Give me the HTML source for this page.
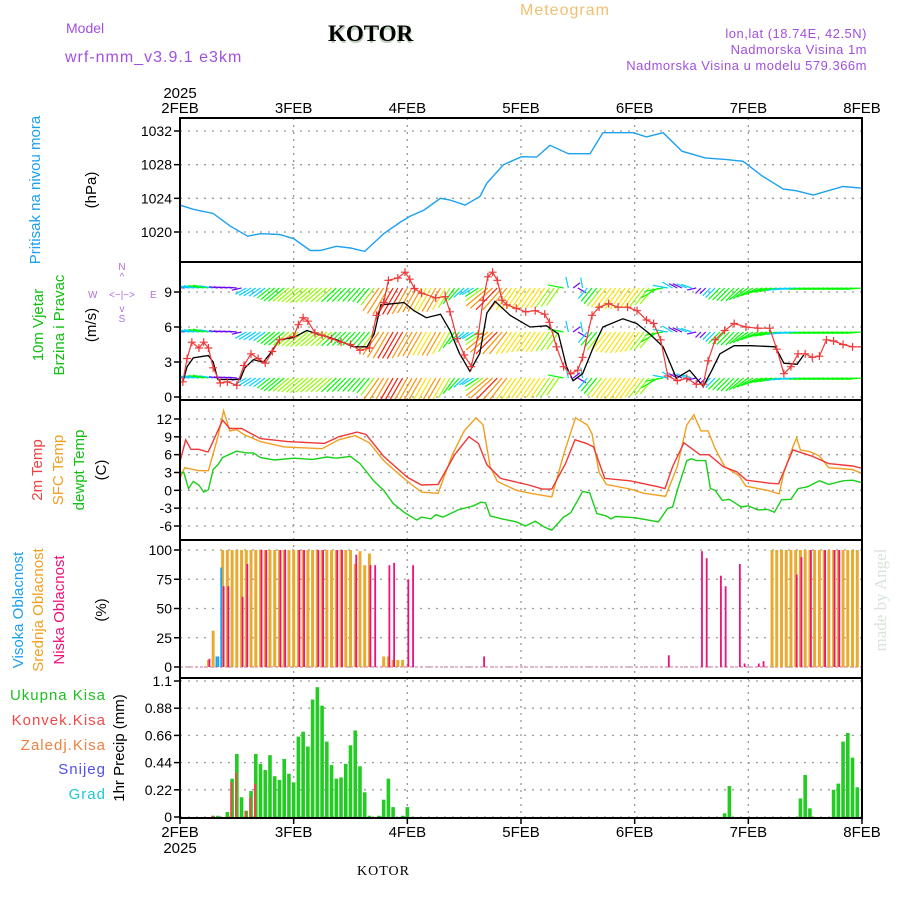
<!DOCTYPE html>
<html><head><meta charset="utf-8"><style>
body{margin:0;background:#fff}
svg{display:block}
text{font-family:"Liberation Sans",sans-serif}
</style></head><body>
<svg id="c" width="900" height="900" xmlns="http://www.w3.org/2000/svg">
<text x="520" y="15" font-size="16" fill="#f0c070" letter-spacing="1">Meteogram</text>
<text x="66" y="33" font-size="14" fill="#a050e0">Model</text>
<text x="330" y="43" font-size="23" font-weight="bold" font-family="Liberation Serif" fill="#bcd0bc">KOTOR</text>
<text x="328" y="41" font-size="23" font-weight="bold" style="font-family:'Liberation Serif',serif" fill="#000">KOTOR</text>
<text x="65" y="62" font-size="16" fill="#a050e0" letter-spacing="1">wrf-nmm_v3.9.1 e3km</text>
<text x="867" y="38" font-size="13" fill="#a050e0" text-anchor="end" letter-spacing="0.5">lon,lat (18.74E, 42.5N)</text>
<text x="867" y="54" font-size="13" fill="#a050e0" text-anchor="end" letter-spacing="0.5">Nadmorska Visina 1m</text>
<text x="867" y="70" font-size="13" fill="#a050e0" text-anchor="end" letter-spacing="0.5">Nadmorska Visina u modelu 579.366m</text>
<text x="180" y="98" font-size="15" text-anchor="middle">2025</text>
<text x="357" y="875" font-size="14" style="font-family:'Liberation Serif',serif" letter-spacing="1">KOTOR</text>
<text x="40" y="190" font-size="15" fill="#1ca0f0" text-anchor="middle" transform="rotate(-90 40 190)">Pritisak na nivou mora</text>
<text x="96" y="190" font-size="15" text-anchor="middle" transform="rotate(-90 96 190)">(hPa)</text>
<text x="43" y="325" font-size="15" fill="#10c010" text-anchor="middle" transform="rotate(-90 43 325)">10m Vjetar</text>
<text x="64" y="325" font-size="15" fill="#10c010" text-anchor="middle" transform="rotate(-90 64 325)">Brzina i Pravac</text>
<text x="96" y="325" font-size="15" text-anchor="middle" transform="rotate(-90 96 325)">(m/s)</text>
<g fill="#b070e0" font-size="10">
<text x="122" y="270" text-anchor="middle">N</text><text x="122" y="280" text-anchor="middle">^</text>
<text x="122" y="298" text-anchor="middle">&lt;−|−&gt;</text>
<text x="88" y="298">W</text><text x="150" y="298">E</text>
<text x="122" y="312" text-anchor="middle">v</text><text x="122" y="322" text-anchor="middle">S</text>
</g>
<text x="42" y="470" font-size="15" fill="#f04040" text-anchor="middle" transform="rotate(-90 42 470)">2m Temp</text>
<text x="63" y="470" font-size="15" fill="#f0a020" text-anchor="middle" transform="rotate(-90 63 470)">SFC Temp</text>
<text x="84" y="470" font-size="15" fill="#10c010" text-anchor="middle" transform="rotate(-90 84 470)">dewpt Temp</text>
<text x="106" y="470" font-size="15" text-anchor="middle" transform="rotate(-90 106 470)">(C)</text>
<text x="23" y="610" font-size="15" fill="#1ca0f0" text-anchor="middle" transform="rotate(-90 23 610)">Visoka Oblacnost</text>
<text x="43" y="610" font-size="15" fill="#f0a020" text-anchor="middle" transform="rotate(-90 43 610)">Srednja Oblacnost</text>
<text x="64" y="610" font-size="15" fill="#f0107a" text-anchor="middle" transform="rotate(-90 64 610)">Niska Oblacnost</text>
<text x="106" y="610" font-size="15" text-anchor="middle" transform="rotate(-90 106 610)">(%)</text>
<g font-size="15" text-anchor="end" letter-spacing="1">
<text x="106" y="700" fill="#20c020">Ukupna Kisa</text>
<text x="106" y="725" fill="#f04848">Konvek.Kisa</text>
<text x="106" y="750" fill="#f08040">Zaledj.Kisa</text>
<text x="106" y="774" fill="#5050f0">Snijeg</text>
<text x="106" y="799" fill="#20c8d0">Grad</text>
</g>
<text x="124" y="748" font-size="15" text-anchor="middle" transform="rotate(-90 124 748)">1hr Precip (mm)</text>
<text x="886" y="600" font-size="17" fill="#d8e4d8" text-anchor="middle" style="font-family:'Liberation Serif',serif" transform="rotate(-90 886 600)">made by Angel</text>
<text x="180" y="853" font-size="15" text-anchor="middle">2025</text>
<g id="plots"></g>
</svg>
<script>
// ---------- data ----------
const dayLabels=["2FEB","3FEB","4FEB","5FEB","6FEB","7FEB","8FEB"];
const presTicks=[1032,1028,1024,1020];
const presHours=[0,2.8,7,10.6,14.3,17,21,24,27.5,29.6,33,36,39,43,46.6,48.7,51.5,55,57,60.2,63.3,64.8,68.3,72.1,75.3,78.1,82,86.6,89.3,92.9,95.7,98.5,102,106,110.9,115.4,118.9,122.8,127.4,130.2,133.7,140,144];
const presVals=[1023.2,1022.7,1022.2,1020.7,1019.5,1019.8,1019.7,1019.2,1017.8,1017.8,1018.3,1018.1,1017.7,1019.8,1021.2,1021.9,1022.6,1024.0,1023.8,1023.2,1024.2,1025.8,1028,1028.95,1028.9,1030.3,1029.3,1029.3,1031.8,1031.8,1031.8,1031.3,1031.8,1029.6,1028.8,1028.6,1028.4,1026.7,1025.1,1024.9,1024.4,1025.4,1025.2];
const windTicks=[9,6,3,0];
const spdHours=[0.6,1.5,2.8,5,6,7,8,12.7,13.7,15.5,17.6,19,21,24,26.8,29,32.5,36.7,39.5,41,42.4,45,47.3,49.4,52,55,57,59,61.2,63.3,64.8,66.5,69.7,73.9,77.4,79.9,81.6,83,85,87.3,89.3,93.5,96.4,99.2,102,103.8,104.8,107.6,110.5,112.3,114,117,120.5,125.7,127.5,130.3,131.7];
const spdVals=[1.3,2.6,3.35,3.5,3.55,3.0,1.5,1.5,2.5,3.2,3.0,3.7,4.9,5.1,5.7,5.4,5.0,4.3,4.3,5.4,7.9,8.0,8.1,7.4,6.8,7.1,5.7,3.75,2.2,3.75,7.2,8.2,7.0,6.0,6.1,5.4,2.6,1.4,2.0,4.3,6.0,6.7,6.3,5.4,4.3,2.6,1.6,2.3,0.9,2.3,3.7,4.4,4.4,4.3,2.9,2.8,3.6];
const gustHours=[0.6,1.5,2.5,4,5,6,7,8.5,10,12,13.5,15,16.5,18,19.5,21,24,25,26,27,28.5,30,32,34,36,38,40,41.5,43,44,46,47.5,48.5,49.5,51,54,56,57,58.5,60,61.5,63,64,65,66,67,68,69,71,73,75,77,78,79.5,81,82.5,84,85,87,88.5,90.5,92.5,94.5,96.5,98.5,100,101.5,103,105,107,109,110.5,111.5,113,115,117,119.5,122,124.5,126,127.5,129,130.5,132,133.5,135,136.5,138,140,142,144];
const gustVals=[1.3,3.3,4.7,4.2,4.7,4.2,2.5,1.2,1.3,1.0,2.7,3.7,3.3,2.9,3.9,4.9,5.2,6.2,6.8,6.5,5.5,5.3,5.0,4.7,4.5,4.0,4.2,7.0,8.1,10.0,10.2,10.7,10.1,9.3,8.9,8.5,8.6,7.3,5.0,3.6,2.6,5.4,8.3,10.3,10.7,10.0,8.3,7.9,7.6,7.3,7.4,7.1,6.4,4.3,2.6,2.0,2.3,3.4,7.0,7.7,8.0,7.7,7.7,7.4,6.6,6.3,4.9,1.8,1.4,1.6,1.1,1.1,3.1,4.9,5.7,6.3,6.0,5.9,5.9,4.1,2.0,2.6,3.7,3.7,3.4,3.5,4.9,4.8,4.5,4.3,4.3];
const dirHours=[0,6,12,14,20,30,40,44,57,62,70,80,84,86,95,100,104,108,110,118,124,130,144];
const dirVals=[95,100,95,60,50,50,40,30,30,60,35,35,300,40,35,40,120,110,45,45,75,85,85];
const tempTicks=[12,9,6,3,0,-3,-6];
const t2Hours=[0,1.2,2.3,4,5.6,6,9,10.5,13,17,22.7,30.5,33.5,37.4,39.3,43,48,51,54.5,58,61,63,64.8,67.7,73.6,76.5,78.5,81.4,83.4,85.8,87.3,89.7,95,101,102.4,104,106.4,109.8,111.7,114.7,117.6,119.6,124.5,126.4,129.4,133.3,137,142,144];
const t2Vals=[4.8,8.5,6.9,6.9,6.5,6.5,11.8,10.4,10.4,8.7,8.2,7.9,9.0,9.8,9.4,5.7,2.2,0.9,1.0,6,9,7.9,4.3,2,0.9,0.2,0.2,4.5,8.5,7.9,7.3,2,1.6,0.6,0.3,4,8,6,6,4,3.1,1.7,1.2,1.1,6.8,5.8,4.5,4.1,3.7];
const sfcHours=[0,1,4,6,8,9.2,10.5,12,13.5,17,22,30,33.5,37,40,43,47,49,51,54.5,57.5,60,62.5,64,65.5,67,71,74,78.5,81,83.5,86,87,88.5,90,95,98,102.5,105,107,108.5,110,111.5,113,115,118,119.5,124,126.5,127.5,129.5,130.2,131,133,135,137,142,144];
const sfcVals=[2.0,3.8,3.3,3.3,9,13.4,10,10.2,9.4,8.2,7.3,7.0,8.5,9.2,8,5,2.2,0.9,-0.3,-0.5,6,10,12.2,11,4,1.5,0,-0.5,-1.1,6,12.2,11,9.5,3,1,0.2,-0.5,-1,4,11,12.7,10,10,7,4,2.5,0.7,0,-0.6,3,7.5,8.8,6.8,6.5,5.8,3.8,3.5,2.8];
const tdHours=[0,0.8,1.8,2.8,4,5,6,7,8,9,10,12,14,15.5,17,20,24,28,31,33,36,38,41,43,45,47.5,50,51,53,54,55.5,59,61,62,63.5,64.5,65.5,68,71,73,75,77,78.5,81,82.5,85,86.5,88,90,91,92,96,101,103,104,105,107,108,109,111,112,113,114.5,116,118.5,120,122,124,125.5,127,129,130.5,132.5,135,137,140,142,144];
const tdVals=[3.0,3.0,0.3,1.5,0.9,-0.3,0.1,3.5,4.3,5.5,5.9,6.6,6.3,6.3,5.5,5.1,5.4,5.2,5.6,5.4,5.7,4.5,1.5,0,-2.2,-3.8,-5,-4.5,-4.8,-4.1,-4.5,-3.2,-2.8,-2.6,-2,-2.1,-4.3,-4.8,-5.3,-6,-5.2,-6.2,-6.7,-4.5,-3.8,-0.2,-0.4,-3.9,-4.3,-4.8,-4.4,-4.6,-5.3,-3,-2.8,0,5,5.3,5,5.0,0.3,0,-1.7,-1.5,-2.8,-2.6,-3.3,-3.2,-3.7,-1.6,-1.5,0.3,0.6,1.6,1,1.6,1.7,1.3];
const cloudTicks=[100,75,50,25,0];
const midHours=[6,7,9,10,11,12,13,14,15,16,17,18,19,20,21,22,23,24,25,26,27,28,29,30,31,32,33,34,35,36,37,38,39,40,43,44,45,46,47,125,126,127,128,129,130,131,132,133,134,135,136,137,138,139,140,141,142,143];
const midVals=[6,31,100,100,100,100,100,100,100,100,100,100,100,100,100,100,100,100,100,100,100,100,100,100,100,100,100,100,100,100,88,99,87,97,9,9,6,6,6,100,100,100,100,100,100,100,100,100,100,100,100,100,100,100,100,100,100,100];
const lowHours=[6,9,10,13,14,17,18,21,22,25,26,29,30,33,34,37,40,41,44,45,48,49,64,103,110,111,114,115,118,119,122,123,130,131,133,136,138,139];
const lowVals=[7,69,69,60,88,100,100,100,100,100,100,100,100,100,100,96,87,87,87,89,75,87,9,10,99,93,78,69,88,3,3,5,79,94,100,100,100,100];
const highHours=[7.7,8.1,8.7];
const highVals=[9,9,85];
const precipTicks=[1.1,0.88,0.66,0.44,0.22,0];
const rainHours=[7,8,10,11,12,13,14,15,16,17,18,19,20,21,22,23,24,25,26,27,28,29,30,31,32,33,34,35,36,37,38,39,40,42,43,44,45,47,48,115,116,131,132,133,138,139,140,141,142,143];
const rainVals=[0.01,0.01,0.04,0.31,0.51,0.16,0.05,0.21,0.51,0.43,0.38,0.50,0.33,0.30,0.47,0.35,0.28,0.65,0.69,0.57,0.95,1.05,0.90,0.61,0.42,0.31,0.32,0.43,0.58,0.70,0.41,0.20,0.01,0.01,0.14,0.31,0.08,0.01,0.08,0.03,0.25,0.15,0.34,0.07,0.22,0.27,0.61,0.68,0.48,0.24];
const convHours=[7,11,12,14,15,16];
const convVals=[0.01,0.28,0.36,0.05,0.16,0.27];

// ---------- helpers ----------
const NS="http://www.w3.org/2000/svg";
const G=document.getElementById('plots');
const X0=180,X1=862,H=144;
const xs=h=>X0+h*(X1-X0)/H;
function mk(tag,attrs,parent){const e=document.createElementNS(NS,tag);for(const k in attrs)e.setAttribute(k,attrs[k]);(parent||G).appendChild(e);return e;}
function lin(v0,y0,v1,y1){return v=>y0+(v-v0)*(y1-y0)/(v1-v0);}
const yP=lin(1032,131,1020,232);
const yW=lin(9,292,6,327);
const yT=lin(12,419,-6,526);
const yC=lin(100,550,0,667);
const yR=lin(1.1,681,0,817);
const panels=[[118,262,'pressure'],[262,400,'wind'],[400,540,'temp'],[540,678,'cloud'],[678,818,'precip']];
function interp(hs,vs,h){if(h<=hs[0])return vs[0];for(let i=1;i<hs.length;i++){if(h<=hs[i]){const t=(h-hs[i-1])/(hs[i]-hs[i-1]);return vs[i-1]+t*(vs[i]-vs[i-1]);}}return vs[vs.length-1];}

// clip paths
const defs=mk('defs',{});
panels.forEach(p=>{const cp=mk('clipPath',{id:'clip-'+p[2]},defs);mk('rect',{x:X0,y:p[0],width:X1-X0,height:p[1]-p[0]},cp);});

// grid
function hgrid(ticks,yf,name){ticks.forEach(t=>{
 const l=mk('line',{x1:X0,x2:X1,y1:yf(t),y2:yf(t),stroke:'#999','stroke-dasharray':'2,6','stroke-width':1.3});
 
 
 const tk=mk('line',{x1:X0-6,x2:X0,y1:yf(t),y2:yf(t),stroke:'#000','stroke-width':1.5});
 
 
 const tx=mk('text',{x:X0-8,y:yf(t)+5,'font-size':14,'text-anchor':'end'});tx.textContent=String(t);
 
 
});}
hgrid(presTicks,yP,'pressure');hgrid(windTicks,yW,'wind');hgrid(tempTicks,yT,'temp');hgrid(cloudTicks,yC,'cloud');hgrid(precipTicks,yR,'precip');
dayLabels.forEach((d,i)=>{const x=xs(i*24);
 const l=mk('line',{x1:x,x2:x,y1:118,y2:818,stroke:'#999','stroke-dasharray':'2,5','stroke-width':1.3});
 
 
 const t1=mk('text',{x:x,y:113,'font-size':15,'text-anchor':'middle'});t1.textContent=d;
 
 
 const t2=mk('text',{x:x,y:837,'font-size':15,'text-anchor':'middle'});t2.textContent=d;
 
 
});
function line(hs,vs,yf,color,name,clip,w){const d=hs.map((h,i)=>(i?'L':'M')+xs(h).toFixed(1)+','+yf(vs[i]).toFixed(1)).join('');
 const p=mk('path',{d:d,fill:'none',stroke:color,'stroke-width':w||1.4,'clip-path':'url(#clip-'+clip+')'});
 
 return p;}

// pressure
line(presHours,presVals,yP,'#1ca0f0','pressure-line','pressure');

// wind arrows
function wcolor(s){const hue=s<2?265:s<3.5?190:s<5?120:s<6?85:s<7?55:s<8?35:s<9?5:330;return 'hsl('+hue+',95%,50%)';}
const wg=mk('g',{'clip-path':'url(#clip-wind)'});


[288,332,378].forEach(ry=>{for(let h=0;h<=144;h+=1){
 const s=interp(spdHours,spdVals,h),dir=interp(dirHours,dirVals,h)*Math.PI/180;
 const L=4+s*3.3,x=xs(h),dx=-Math.sin(dir)*L,dy=Math.cos(dir)*L;
 const a=mk('line',{x1:x,y1:ry,x2:x+dx,y2:ry+dy,stroke:wcolor(s),'stroke-width':1.2},wg);
 
 
}});
line(spdHours,spdVals,yW,'#000','wind-speed-line','wind',1.3);
line(gustHours,gustVals,yW,'#f03838','wind-gust-line','wind',1.2);
const gg=mk('g',{'clip-path':'url(#clip-wind)',stroke:'#f03838','stroke-width':1.2});


gustHours.forEach((h,i)=>{const x=xs(h),y=yW(gustVals[i]);
 const m=mk('path',{d:`M${x-4},${y}h8M${x},${y-4}v8`},gg);
 
 });

// temps
line(sfcHours,sfcVals,yT,'#f0a020','sfc-temp-line','temp');
line(t2Hours,t2Vals,yT,'#f03838','t2m-line','temp');
line(tdHours,tdVals,yT,'#18d018','dewpt-line','temp');

// clouds
const base=mk('line',{x1:X0,x2:X1,y1:yC(0),y2:yC(0),stroke:'#e0a0c0','stroke-width':1.5,'stroke-dasharray':'3,2'});


function bars(hs,vs,yf,color,w,name,off){hs.forEach((h,i)=>{const y=yf(vs[i]),y0=yf(0);
 const r=mk('rect',{x:xs(h)-w/2+(off||0),y:y,width:w,height:Math.max(0,y0-y),fill:color});
 
 });}
bars(midHours,midVals,yC,'#eaaa30',3,'mid-cloud-bar',0);
bars(lowHours,lowVals,yC,'#f0107a',1.8,'low-cloud-bar',1);
bars(highHours,highVals,yC,'#1ca0f0',1.8,'high-cloud-bar',0);

// precip
bars(rainHours,rainVals,yR,'#22cc22',3.6,'rain-bar',0);
bars(convHours,convVals,yR,'#f04848',2,'conv-rain-bar',-0.8);

// frames
panels.forEach(p=>{const r=mk('rect',{x:X0,y:p[0],width:X1-X0,height:p[1]-p[0],fill:'none',stroke:'#000','stroke-width':2});
 
 });
dayLabels.forEach((d,i)=>{const x=xs(i*24);
 const t=mk('line',{x1:x,x2:x,y1:818,y2:824,stroke:'#000','stroke-width':1.5});
 
 });
</script>
</body></html>
